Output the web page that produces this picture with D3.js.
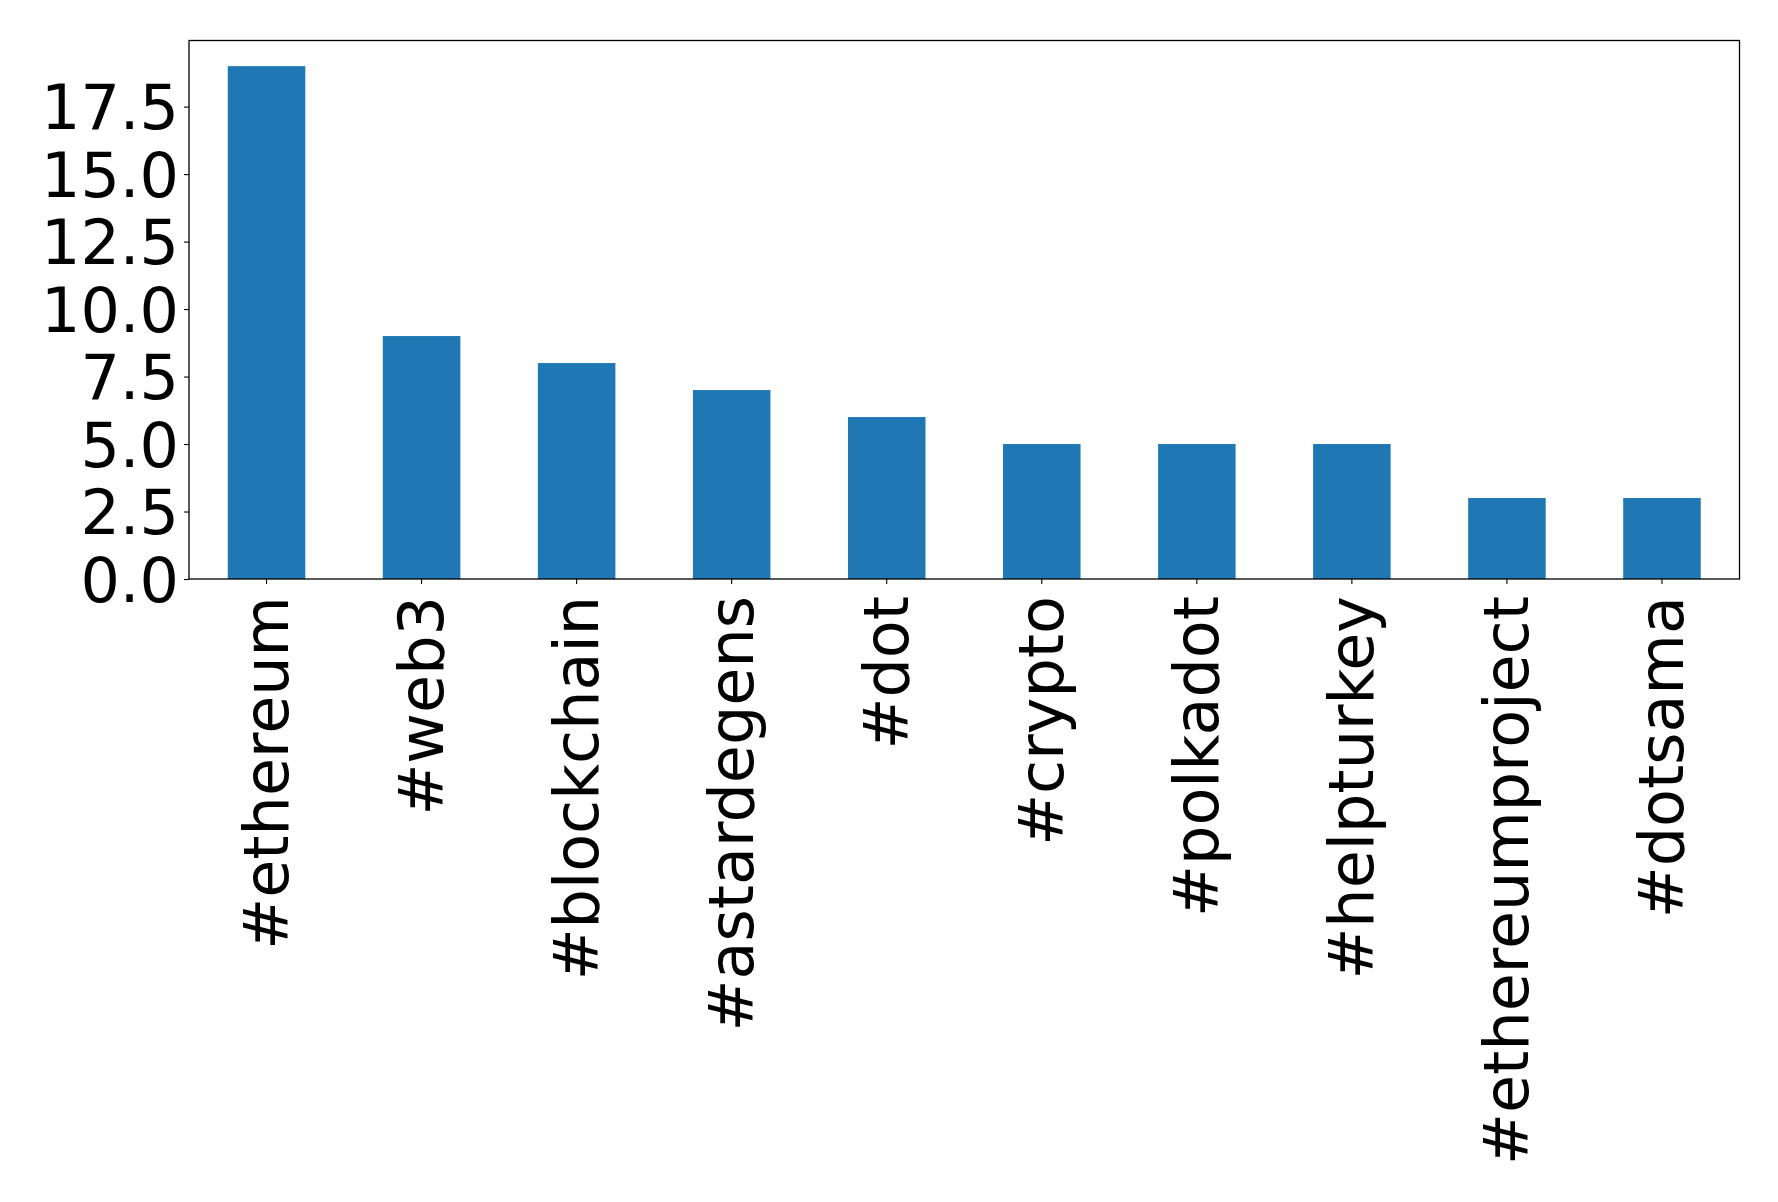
<!DOCTYPE html>
<html>
<head>
<meta charset="utf-8">
<script src="https://cdn.jsdelivr.net/npm/d3@7"></script>
<style>
  html, body { margin: 0; padding: 0; background: #fff; }
  svg { display: block; }
</style>
</head>
<body>
<svg id="chart" width="1778" height="1202"></svg>
<script>
const categories = ["#ethereum", "#web3", "#blockchain", "#astardegens", "#dot", "#crypto", "#polkadot", "#helpturkey", "#ethereumproject", "#dotsama"];
const values = [19, 9, 8, 7, 6, 5, 5, 5, 3, 3];
const yTicks = [0, 2.5, 5, 7.5, 10, 12.5, 15, 17.5];

const W = 1778, H = 1202;
const margin = { left: 189, top: 40.5, right: W - 1739.5, bottom: H - 579 };
const innerW = W - margin.left - margin.right;
const innerH = H - margin.top - margin.bottom;
const fontSize = 62;
const font = "'DejaVu Sans', sans-serif";

const svg = d3.select("#chart");
const g = svg.append("g").attr("transform", `translate(${margin.left},${margin.top})`);

const x = d3.scaleBand().domain(categories).range([0, innerW]).paddingInner(0.5).paddingOuter(0.25);
const y = d3.scaleLinear().domain([0, d3.max(values) * 1.05]).range([innerH, 0]);

g.selectAll("rect.bar").data(categories).join("rect")
  .attr("class", "bar")
  .attr("x", d => x(d))
  .attr("width", x.bandwidth())
  .attr("y", (d, i) => y(values[i]))
  .attr("height", (d, i) => innerH - y(values[i]))
  .attr("fill", "#1f77b4");

const yAxis = g.append("g")
  .call(d3.axisLeft(y).tickValues(yTicks).tickFormat(d3.format(".1f")).tickSize(5).tickPadding(5));
yAxis.select(".domain").remove();
yAxis.selectAll("line").attr("stroke", "#000").attr("stroke-width", 1.1);
yAxis.selectAll("text").attr("font-family", font).attr("font-size", fontSize).attr("fill", "#000")
  .attr("dy", "0.36em");

const xAxis = g.append("g").attr("transform", `translate(0,${innerH})`)
  .call(d3.axisBottom(x).tickSize(5).tickPadding(5));
xAxis.select(".domain").remove();
xAxis.selectAll("line").attr("stroke", "#000").attr("stroke-width", 1.1);
xAxis.selectAll("text")
  .attr("font-family", font).attr("font-size", fontSize).attr("fill", "#000")
  .attr("text-anchor", "end")
  .attr("dy", null)
  .attr("y", 0)
  .attr("transform", "translate(0,17) rotate(-90)")
  .attr("dominant-baseline", "central");

g.append("rect")
  .attr("x", 0).attr("y", 0).attr("width", innerW).attr("height", innerH)
  .attr("fill", "none").attr("stroke", "#000").attr("stroke-width", 1.3);
</script>
</body>
</html>
